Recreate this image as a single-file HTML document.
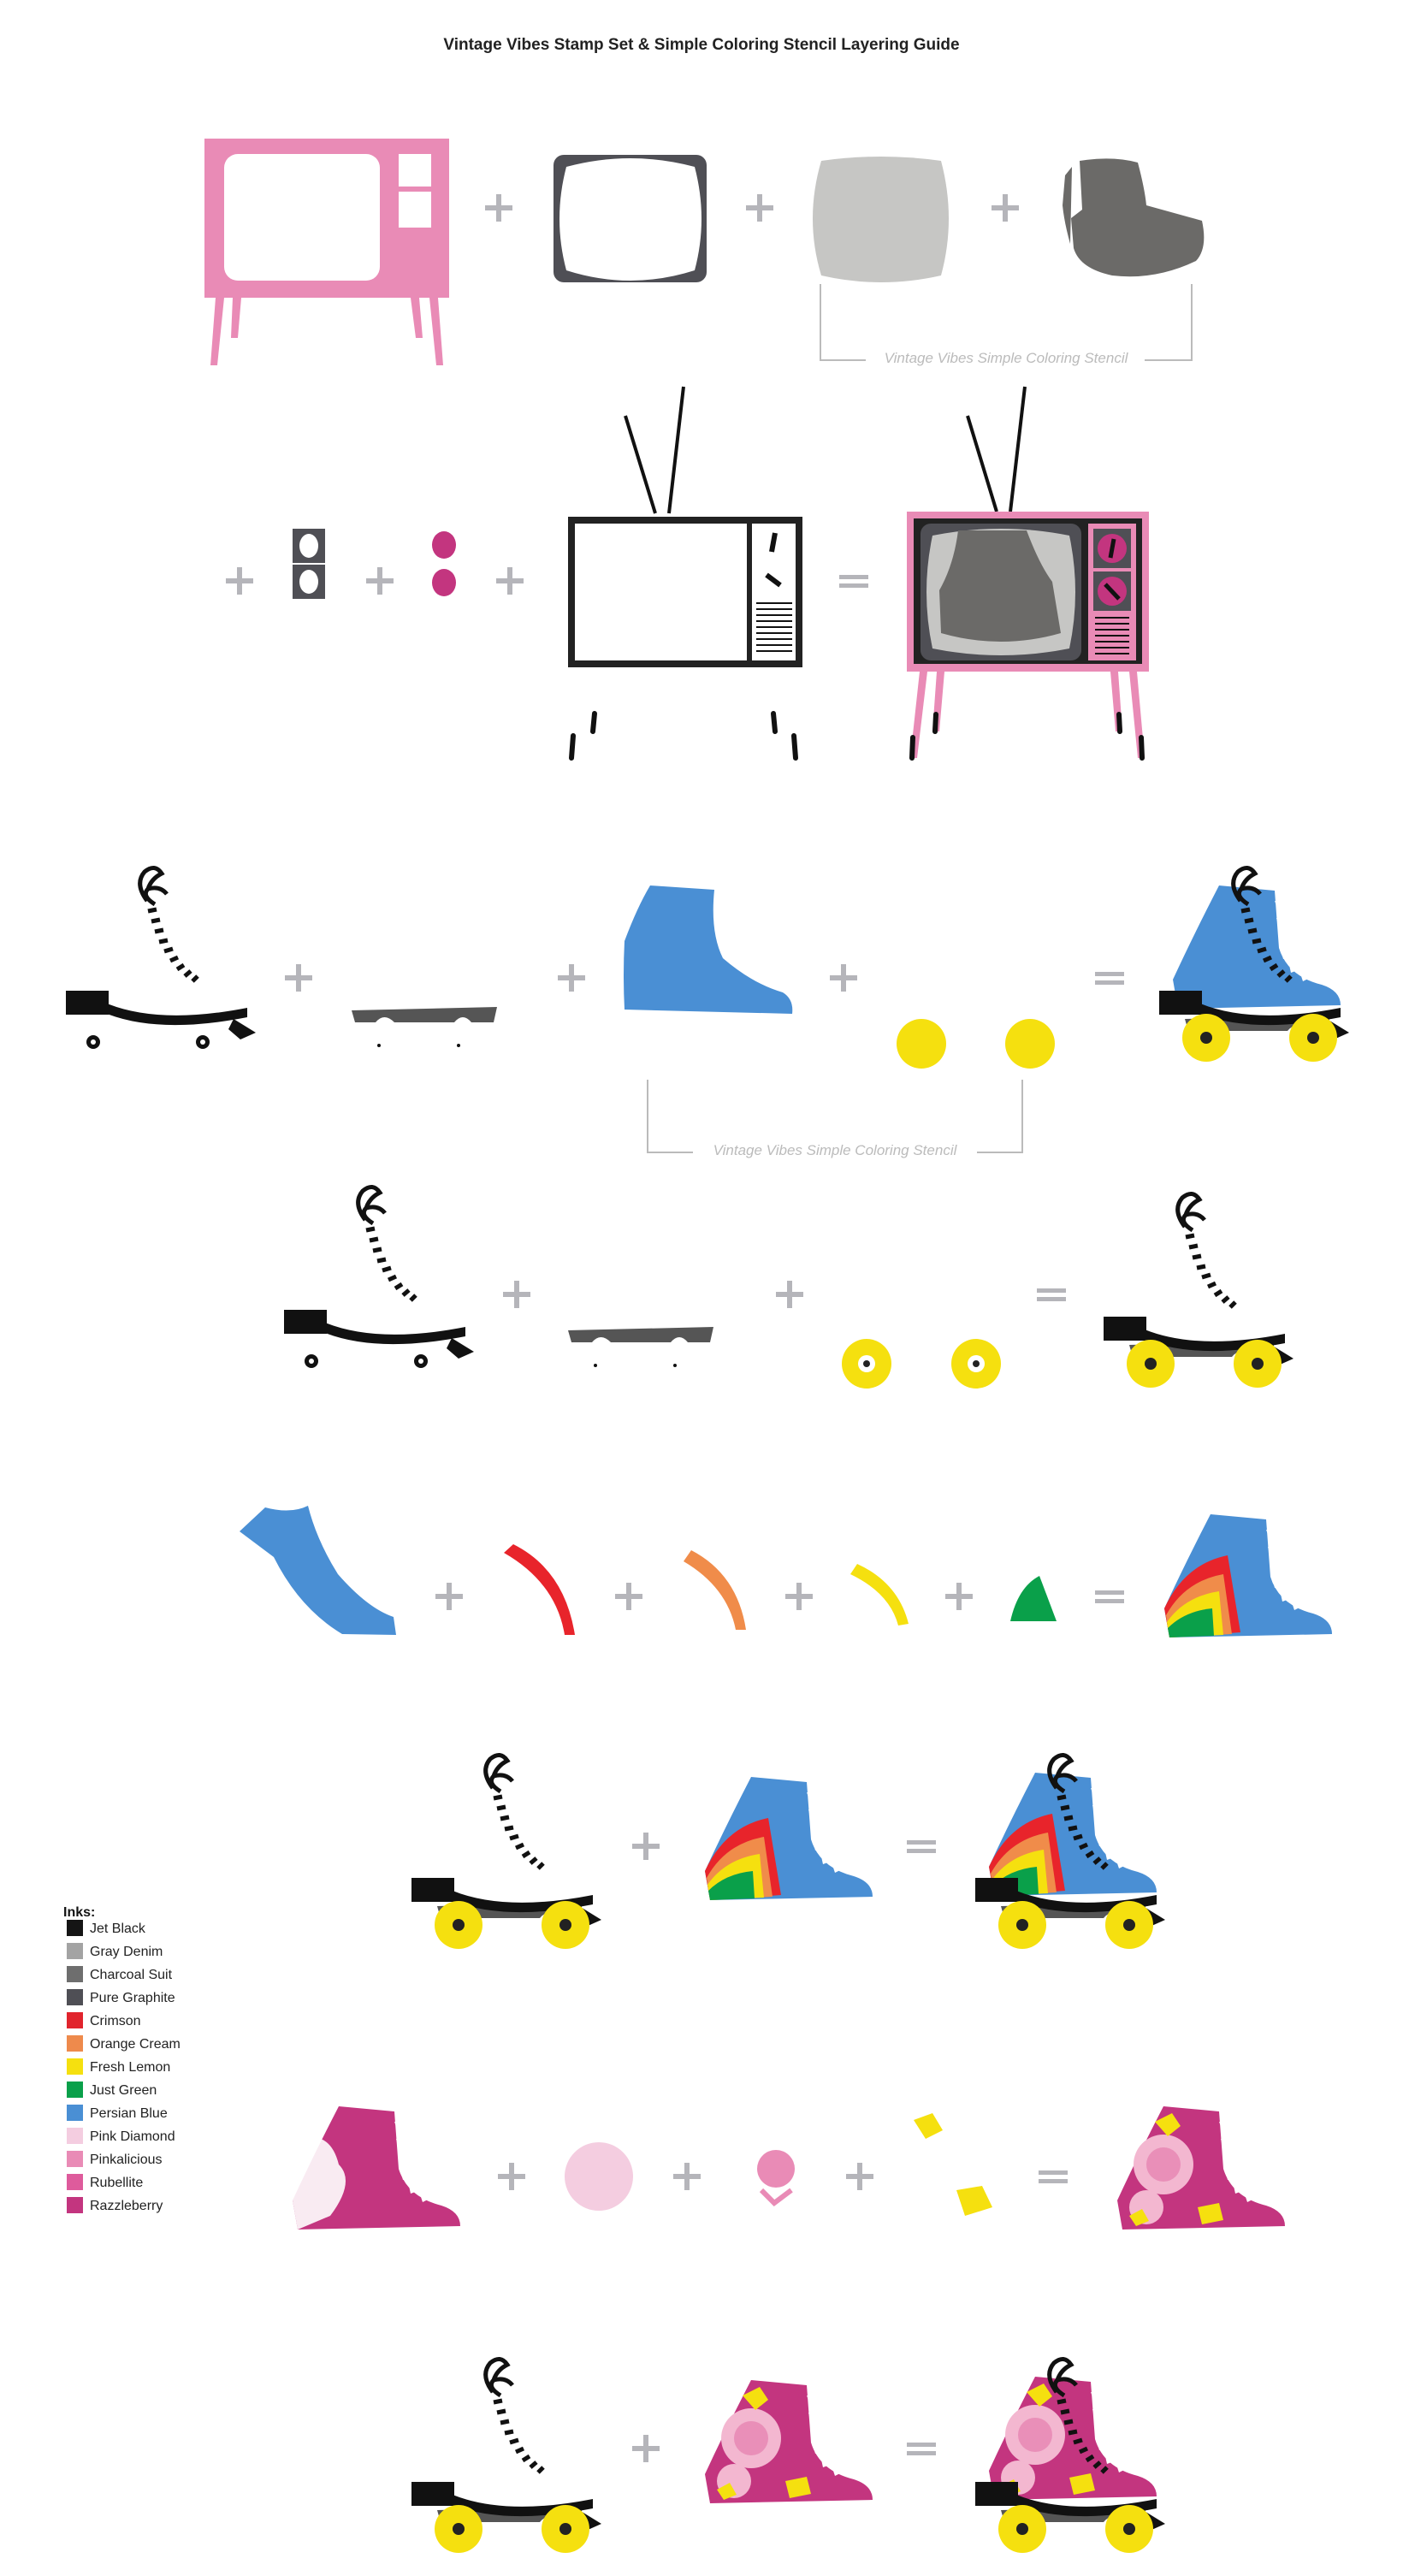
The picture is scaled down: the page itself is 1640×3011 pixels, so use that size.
<!DOCTYPE html>
<html><head><meta charset="utf-8"><style>
html,body{margin:0;padding:0;background:#fff;}
svg{display:block;}
text{font-family:"Liberation Sans",sans-serif;}
</style></head><body>
<svg width="1640" height="3011" viewBox="0 0 1640 3011" xmlns="http://www.w3.org/2000/svg">
<defs>
<g id="plus"><rect x="-16" y="-3" width="32" height="6" fill="#b5b5ba"/><rect x="-3" y="-16" width="6" height="32" fill="#b5b5ba"/></g>
<g id="eq"><rect x="-17" y="-7" width="34" height="5" fill="#b5b5ba"/><rect x="-17" y="3" width="34" height="5" fill="#b5b5ba"/></g>
<path id="bootP" d="M70,22 L135,28 L140,95 Q150,128 190,138 Q212,145 212,162 L22,166 L16,132 Q40,80 70,22 Z"/>
<g id="laces">
 <path d="M95,40 Q80,20 92,6 Q104,-4 112,8 Q100,14 96,26 M96,26 Q110,22 118,32 M96,26 Q88,34 104,44" stroke="#111" stroke-width="5" fill="none"/>
 <g stroke="#111" stroke-width="5">
  <line x1="96" y1="52" x2="106" y2="50"/><line x1="100" y1="64" x2="110" y2="62"/><line x1="104" y1="76" x2="114" y2="74"/>
  <line x1="109" y1="88" x2="119" y2="86"/><line x1="115" y1="99" x2="125" y2="96"/><line x1="122" y1="110" x2="131" y2="106"/>
  <line x1="130" y1="120" x2="138" y2="115"/><line x1="139" y1="128" x2="146" y2="122"/><line x1="148" y1="134" x2="154" y2="128"/>
 </g>
</g>
<g id="plate">
 <rect x="0" y="145" width="50" height="28" fill="#111"/>
 <path d="M48,160 Q110,185 212,165 L212,176 Q110,196 48,172Z" fill="#111"/>
 <polygon points="196,178 222,194 204,202 190,190" fill="#111"/>
</g>
<g id="chassis"><path d="M30,178 L200,174 L196,192 L170,192 Q160,180 150,192 L80,192 Q68,180 58,192 L34,192Z" fill="#555"/></g>
<g id="skBlack"><use href="#laces"/><use href="#plate"/>
 <circle cx="32" cy="205" r="8" fill="#111"/><circle cx="32" cy="205" r="3" fill="#fff"/>
 <circle cx="160" cy="205" r="8" fill="#111"/><circle cx="160" cy="205" r="3" fill="#fff"/></g>
<g id="wheels"><circle cx="55" cy="200" r="28" fill="#f5e00f"/><circle cx="55" cy="200" r="7" fill="#222"/>
 <circle cx="180" cy="200" r="28" fill="#f5e00f"/><circle cx="180" cy="200" r="7" fill="#222"/></g>
<g id="skFull"><use href="#chassis"/><use href="#laces"/><use href="#plate"/><use href="#wheels"/></g>
<g id="rainbow">
 <path d="M16,132 Q40,80 90,70 L105,160 L22,166Z" fill="#e8242b"/>
 <path d="M18,140 Q40,100 85,92 L95,162 L22,166Z" fill="#f08c4a"/>
 <path d="M19,148 Q40,118 80,112 L85,163 L22,166Z" fill="#f5e00f"/>
 <path d="M20,155 Q40,135 72,132 L74,164 L22,166Z" fill="#0aa04a"/>
</g>
<g id="notches" fill="#fff"><polygon points="135,40 150,44 138,48"/><polygon points="137,60 152,64 139,68"/><polygon points="139,80 154,84 141,88"/><polygon points="143,100 158,104 145,108"/><polygon points="152,115 165,120 154,124"/><polygon points="165,125 176,130 168,134"/></g>
<g id="floral">
 <circle cx="70" cy="90" r="35" fill="#f3b7d0"/><circle cx="70" cy="90" r="20" fill="#e98fb8"/>
 <circle cx="50" cy="140" r="20" fill="#f3b7d0"/>
 <path d="M60,40 l20,-10 l10,15 l-15,12Z M110,140 l25,-5 l5,20 l-25,5Z M30,150 l15,-8 l8,14 l-15,6Z" fill="#f5e00f"/>
</g>
</defs>

<text x="820" y="58" text-anchor="middle" font-size="19" fill="#222" style="font-weight:600">Vintage Vibes Stamp Set &amp; Simple Coloring Stencil Layering Guide</text>

<!-- Row 1 -->
<g>
 <rect x="239" y="162" width="286" height="186" fill="#e98bb6"/>
 <rect x="262" y="180" width="182" height="148" rx="16" fill="#fff"/>
 <rect x="466" y="180" width="38" height="38" fill="#fff"/><rect x="466" y="224" width="38" height="42" fill="#fff"/>
 <polygon points="252,348 262,348 254,427 246,427" fill="#e98bb6"/><polygon points="272,348 282,348 278,395 270,395" fill="#e98bb6"/>
 <polygon points="480,348 490,348 494,395 486,395" fill="#e98bb6"/><polygon points="502,348 512,348 518,427 510,427" fill="#e98bb6"/>
</g>
<use href="#plus" x="583" y="243"/>
<rect x="647" y="181" width="179" height="149" rx="12" fill="#4f4f55"/>
<path d="M662,195 Q737,175 812,195 Q828,256 812,316 Q737,340 662,316 Q646,256 662,195Z" fill="#fff"/>
<use href="#plus" x="888" y="243"/>
<path d="M960,188 Q1030,178 1100,188 Q1118,256 1100,322 Q1030,338 960,322 Q940,256 960,188Z" fill="#c6c6c4"/>
<use href="#plus" x="1175" y="243"/>
<path d="M1262,188 Q1300,182 1330,190 Q1338,220 1340,240 L1405,258 Q1412,290 1398,305 Q1350,328 1300,322 Q1262,314 1255,290 L1252,255 L1265,245 Z M1245,205 L1253,195 L1251,285 Q1244,260 1242,240Z" fill="#6b6a68"/>
<path d="M959,332 V421 H1012 M1393,332 V421 H1338" stroke="#bbb" stroke-width="2" fill="none"/>
<text x="1176" y="424" text-anchor="middle" font-size="17" font-style="italic" fill="#bbb">Vintage Vibes Simple Coloring Stencil</text>

<!-- Row 2 -->
<use href="#plus" x="280" y="679"/>
<rect x="342" y="618" width="38" height="40" fill="#4f4f55"/><ellipse cx="361" cy="638" rx="11" ry="14" fill="#fff"/>
<rect x="342" y="660" width="38" height="40" fill="#4f4f55"/><ellipse cx="361" cy="680" rx="11" ry="14" fill="#fff"/>
<use href="#plus" x="444" y="679"/>
<ellipse cx="519" cy="637" rx="14" ry="16" fill="#c3357f"/><ellipse cx="519" cy="681" rx="14" ry="16" fill="#c3357f"/>
<use href="#plus" x="596" y="679"/>
<g>
 <line x1="766" y1="600" x2="731" y2="486" stroke="#111" stroke-width="4"/><line x1="782" y1="600" x2="799" y2="452" stroke="#111" stroke-width="4"/>
 <rect x="668" y="608" width="266" height="168" fill="none" stroke="#222" stroke-width="8"/>
 <line x1="876" y1="612" x2="876" y2="772" stroke="#222" stroke-width="6"/>
 <line x1="906" y1="623" x2="902" y2="645" stroke="#111" stroke-width="6"/><line x1="896" y1="672" x2="912" y2="684" stroke="#111" stroke-width="6"/>
 <g stroke="#111" stroke-width="2"><line x1="884" y1="705" x2="926" y2="705"/><line x1="884" y1="712" x2="926" y2="712"/><line x1="884" y1="719" x2="926" y2="719"/><line x1="884" y1="726" x2="926" y2="726"/><line x1="884" y1="733" x2="926" y2="733"/><line x1="884" y1="740" x2="926" y2="740"/><line x1="884" y1="747" x2="926" y2="747"/><line x1="884" y1="754" x2="926" y2="754"/><line x1="884" y1="761" x2="926" y2="761"/></g>
 <g stroke="#111" stroke-width="6" stroke-linecap="round"><line x1="695" y1="834" x2="693" y2="855"/><line x1="670" y1="860" x2="668" y2="886"/><line x1="904" y1="834" x2="906" y2="855"/><line x1="928" y1="860" x2="930" y2="886"/></g>
</g>
<use href="#eq" x="998" y="679"/>
<g>
 <line x1="1165" y1="598" x2="1131" y2="486" stroke="#111" stroke-width="4"/><line x1="1181" y1="598" x2="1198" y2="452" stroke="#111" stroke-width="4"/>
 <rect x="1060" y="598" width="283" height="187" fill="#e98bb6"/>
 <rect x="1068" y="606" width="267" height="170" fill="#222"/>
 <rect x="1076" y="612" width="188" height="160" rx="12" fill="#4f4f55"/>
 <path d="M1090,626 Q1170,610 1250,626 Q1264,692 1250,758 Q1170,774 1090,758 Q1076,692 1090,626Z" fill="#c6c6c4"/>
 <path d="M1120,620 L1200,620 Q1215,660 1230,680 L1240,740 Q1170,760 1100,740 L1098,690 Q1115,660 1120,620Z" fill="#6b6a68"/>
 <rect x="1272" y="612" width="56" height="160" fill="#e98bb6"/>
 <rect x="1278" y="618" width="44" height="46" fill="#4f4f55"/><circle cx="1300" cy="641" r="17" fill="#c3357f"/>
 <rect x="1278" y="668" width="44" height="46" fill="#4f4f55"/><circle cx="1300" cy="691" r="17" fill="#c3357f"/>
 <line x1="1302" y1="630" x2="1298" y2="652" stroke="#111" stroke-width="5"/><line x1="1292" y1="683" x2="1308" y2="700" stroke="#111" stroke-width="5"/>
 <g stroke="#111" stroke-width="2"><line x1="1280" y1="722" x2="1320" y2="722"/><line x1="1280" y1="729" x2="1320" y2="729"/><line x1="1280" y1="736" x2="1320" y2="736"/><line x1="1280" y1="743" x2="1320" y2="743"/><line x1="1280" y1="750" x2="1320" y2="750"/><line x1="1280" y1="757" x2="1320" y2="757"/><line x1="1280" y1="764" x2="1320" y2="764"/></g>
 <polygon points="1075,785 1084,785 1072,886 1064,886" fill="#e98bb6"/><polygon points="1095,785 1104,785 1098,855 1090,855" fill="#e98bb6"/>
 <polygon points="1298,785 1307,785 1312,855 1304,855" fill="#e98bb6"/><polygon points="1320,785 1329,785 1338,886 1330,886" fill="#e98bb6"/>
 <g stroke="#111" stroke-width="6" stroke-linecap="round"><line x1="1094" y1="835" x2="1093" y2="855"/><line x1="1067" y1="862" x2="1066" y2="886"/><line x1="1308" y1="835" x2="1309" y2="855"/><line x1="1334" y1="862" x2="1335" y2="886"/></g>
</g>

<!-- Row 3 -->
<use href="#skBlack" x="77" y="1013"/>
<use href="#plus" x="349" y="1143"/>
<g transform="translate(381,1003)"><use href="#chassis"/><circle cx="62" cy="219" r="2" fill="#111"/><circle cx="155" cy="219" r="2" fill="#111"/></g>
<use href="#plus" x="668" y="1143"/>
<path d="M730,1100 Q745,1060 760,1035 L835,1040 Q830,1090 845,1120 Q880,1150 915,1160 Q928,1168 926,1185 L730,1180 Q728,1140 730,1100Z" fill="#4a8fd4"/>
<use href="#plus" x="986" y="1143"/>
<circle cx="1077" cy="1220" r="29" fill="#f5e00f"/><circle cx="1204" cy="1220" r="29" fill="#f5e00f"/>
<use href="#eq" x="1297" y="1143"/>
<g transform="translate(1355,1013)"><use href="#bootP" fill="#4a8fd4"/><use href="#notches"/><use href="#skFull"/></g>
<path d="M757,1262 V1347 H810 M1195,1262 V1347 H1142" stroke="#bbb" stroke-width="2" fill="none"/>
<text x="976" y="1350" text-anchor="middle" font-size="17" font-style="italic" fill="#bbb">Vintage Vibes Simple Coloring Stencil</text>

<!-- Row 4 -->
<use href="#skBlack" x="332" y="1386"/>
<use href="#plus" x="604" y="1513"/>
<g transform="translate(634,1377)"><use href="#chassis"/><circle cx="62" cy="219" r="2" fill="#111"/><circle cx="155" cy="219" r="2" fill="#111"/></g>
<use href="#plus" x="923" y="1513"/>
<circle cx="1013" cy="1594" r="29" fill="#f5e00f"/><circle cx="1013" cy="1594" r="10" fill="#fff"/><circle cx="1013" cy="1594" r="4" fill="#222"/>
<circle cx="1141" cy="1594" r="29" fill="#f5e00f"/><circle cx="1141" cy="1594" r="10" fill="#fff"/><circle cx="1141" cy="1594" r="4" fill="#222"/>
<use href="#eq" x="1229" y="1513"/>
<use href="#skFull" x="1290" y="1394"/>

<!-- Row 5 -->
<path d="M280,1790 L310,1762 Q340,1770 360,1760 Q370,1800 395,1840 Q430,1880 460,1890 L463,1911 L400,1910 Q350,1880 320,1820 Z" fill="#4a8fd4"/>
<use href="#plus" x="525" y="1866"/>
<path d="M589,1815 L600,1805 Q660,1835 672,1911 L660,1911 Q650,1850 589,1815Z" fill="#e8242b"/>
<use href="#plus" x="735" y="1866"/>
<path d="M799,1825 L808,1812 Q862,1840 872,1905 L860,1905 Q850,1855 799,1825Z" fill="#f08c4a"/>
<use href="#plus" x="934" y="1866"/>
<path d="M994,1840 L1002,1828 Q1050,1850 1062,1898 L1050,1900 Q1040,1862 994,1840Z" fill="#f5e00f"/>
<use href="#plus" x="1121" y="1866"/>
<path d="M1181,1895 Q1190,1855 1215,1842 L1235,1895Z" fill="#0aa04a"/>
<use href="#eq" x="1297" y="1866"/>
<g transform="translate(1345,1748)"><use href="#bootP" fill="#4a8fd4"/><use href="#notches"/><use href="#rainbow"/></g>

<!-- Row 6 -->
<use href="#skFull" x="481" y="2050"/>
<use href="#plus" x="755" y="2158"/>
<g transform="translate(808,2055)"><use href="#bootP" fill="#4a8fd4"/><use href="#notches"/><use href="#rainbow"/></g>
<use href="#eq" x="1077" y="2158"/>
<g transform="translate(1140,2050)"><use href="#bootP" fill="#4a8fd4"/><use href="#notches"/><use href="#rainbow"/><use href="#skFull"/></g>

<!-- Legend -->
<text x="74" y="2240" font-size="16" font-weight="bold" fill="#111">Inks:</text>
<g font-size="16" fill="#222">
<rect x="78" y="2244" width="19" height="19" fill="#151515"/><text x="105" y="2259">Jet Black</text>
<rect x="78" y="2271" width="19" height="19" fill="#a3a3a3"/><text x="105" y="2286">Gray Denim</text>
<rect x="78" y="2298" width="19" height="19" fill="#6e6e6e"/><text x="105" y="2313">Charcoal Suit</text>
<rect x="78" y="2325" width="19" height="19" fill="#4f4f55"/><text x="105" y="2340">Pure Graphite</text>
<rect x="78" y="2352" width="19" height="19" fill="#e1242d"/><text x="105" y="2367">Crimson</text>
<rect x="78" y="2379" width="19" height="19" fill="#ee8a4c"/><text x="105" y="2394">Orange Cream</text>
<rect x="78" y="2406" width="19" height="19" fill="#f5e00f"/><text x="105" y="2421">Fresh Lemon</text>
<rect x="78" y="2433" width="19" height="19" fill="#0aa04a"/><text x="105" y="2448">Just Green</text>
<rect x="78" y="2460" width="19" height="19" fill="#4a8fd4"/><text x="105" y="2475">Persian Blue</text>
<rect x="78" y="2487" width="19" height="19" fill="#f4cde0"/><text x="105" y="2502">Pink Diamond</text>
<rect x="78" y="2514" width="19" height="19" fill="#e98bb6"/><text x="105" y="2529">Pinkalicious</text>
<rect x="78" y="2541" width="19" height="19" fill="#de5b9c"/><text x="105" y="2556">Rubellite</text>
<rect x="78" y="2568" width="19" height="19" fill="#c3357f"/><text x="105" y="2583">Razzleberry</text>
</g>

<!-- Row 7 -->
<g transform="translate(326,2440)"><use href="#bootP" fill="#c3357f"/><use href="#notches"/>
 <path d="M25,60 Q60,50 70,90 Q90,110 60,150 L22,166 L16,132Z" fill="#fff" opacity="0.9"/></g>
<use href="#plus" x="598" y="2544"/>
<circle cx="700" cy="2544" r="40" fill="#f4cde0"/>
<use href="#plus" x="803" y="2544"/>
<circle cx="907" cy="2535" r="22" fill="#e98bb6"/><path d="M890,2560 L905,2575 L925,2560" stroke="#e98bb6" stroke-width="6" fill="none"/>
<use href="#plus" x="1005" y="2544"/>
<path d="M1068,2478 L1090,2470 L1102,2490 L1082,2500 Z M1118,2560 L1148,2555 L1160,2580 L1128,2590Z" fill="#f5e00f"/>
<use href="#eq" x="1231" y="2544"/>
<g transform="translate(1290,2440)"><use href="#bootP" fill="#c3357f"/><use href="#notches"/><use href="#floral"/></g>

<!-- Row 8 -->
<use href="#skFull" x="481" y="2756"/>
<use href="#plus" x="755" y="2862"/>
<g transform="translate(808,2760)"><use href="#bootP" fill="#c3357f"/><use href="#notches"/><use href="#floral"/></g>
<use href="#eq" x="1077" y="2862"/>
<g transform="translate(1140,2756)"><use href="#bootP" fill="#c3357f"/><use href="#notches"/><use href="#floral"/><use href="#skFull"/></g>
</svg>
</body></html>
